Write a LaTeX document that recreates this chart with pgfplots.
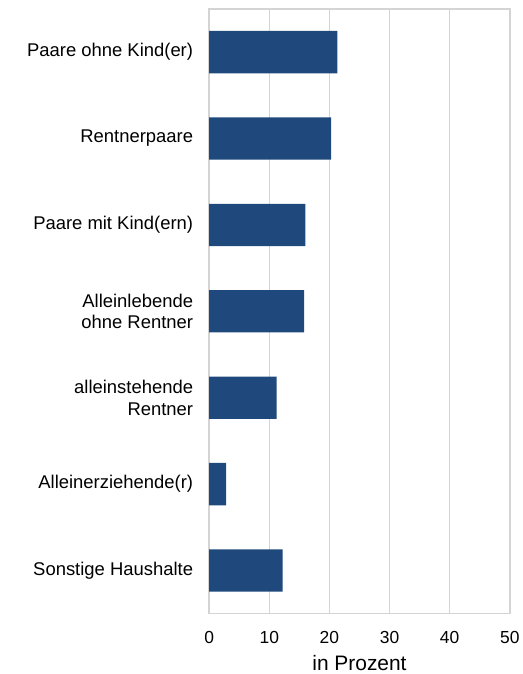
\documentclass[border=0pt]{standalone}
\usepackage{fontspec}
\setmainfont{Liberation Sans}
\usepackage{pgfplots}
\pgfplotsset{compat=1.18}
\definecolor{barc}{RGB}{31,73,125}
\definecolor{gridc}{RGB}{212,212,212}
\begin{document}
\begin{tikzpicture}
\begin{axis}[
  scale only axis, width=301.7pt, height=607pt,
  xbar, bar width=0.49,
  xmin=0, xmax=50, ymin=-0.5, ymax=6.5, y dir=reverse,
  xtick={0,10,...,50}, ytick={0,...,6},
  yticklabels={Paare ohne Kind(er), Rentnerpaare, Paare mit Kind(ern), {Alleinlebende\\ohne Rentner}, {alleinstehende\\Rentner}, Alleinerziehende(r), Sonstige Haushalte},
  xmajorgrids, major grid style={gridc, line width=1.5pt},
  axis line style={gridc, line width=1.5pt},
  tick style={draw=none}, major tick length=0pt,
  /pgf/number format/assume math mode=true,
  xticklabel style={font=\fontsize{17.5}{21}\selectfont, inner sep=0pt, yshift=-17pt},
  yticklabel style={align=right, inner sep=0pt, xshift=-16pt, font=\fontsize{18.5}{21.7}\selectfont},
  xlabel={in Prozent},
  xlabel style={font=\fontsize{21}{24}\selectfont, at={(axis description cs:0.5,0)}, anchor=base, yshift=-57pt},
]
\addplot[fill=barc, draw=none] coordinates {(21.3,0) (20.3,1) (16.0,2) (15.8,3) (11.2,4) (2.8,5) (12.2,6)};
\coordinate (O) at (axis description cs:0,0);
\end{axis}
\path (O) ++(-210pt,-58pt) rectangle ++(524pt,674pt);
\end{tikzpicture}
\end{document}
